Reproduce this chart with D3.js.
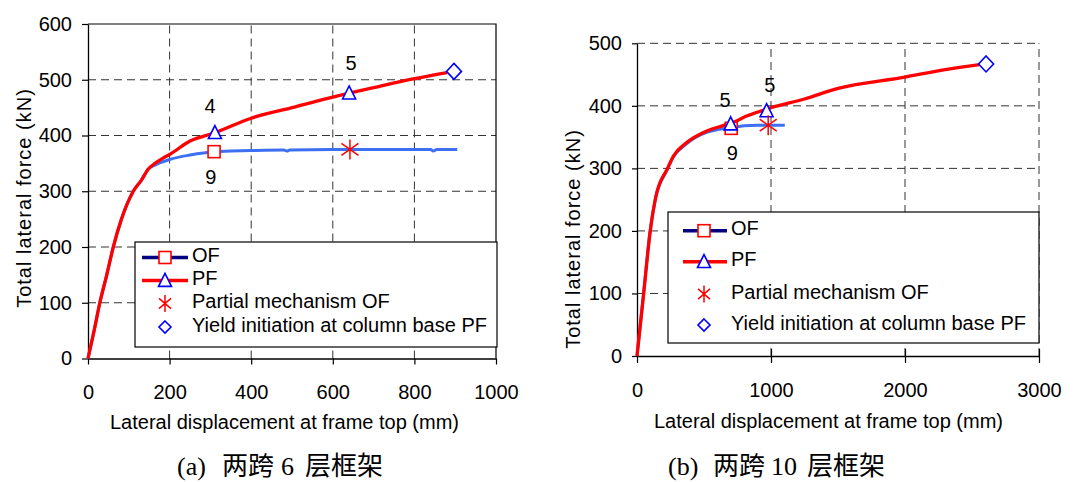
<!DOCTYPE html>
<html>
<head>
<meta charset="utf-8">
<script src="https://cdn.jsdelivr.net/npm/d3@7"></script>
<style>
  body { margin: 0; background: #fff; }
  svg { display: block; }
  text { font-family: "Liberation Sans", Arial, sans-serif; fill: #000; }
</style>
</head>
<body>
<svg id="fig" width="1075" height="482"></svg>
<script>
// ---------- Panel (a): two-bay, six-storey frame ----------
const xTicksA = [0, 200, 400, 600, 800, 1000];
const yTicksA = [0, 100, 200, 300, 400, 500, 600];

// PF (red) pushover curve: top displacement (mm) vs base shear (kN)
const dispA_PF  = [0, 15, 29, 46, 62, 82, 111, 131, 148, 164, 185, 200, 250, 311, 400, 500, 600, 640, 700, 800, 880];
const forceA_PF = [0, 50, 100, 150, 200, 250, 300, 320, 340, 350, 360, 366, 390, 405, 431, 450, 469, 476, 486, 502, 513];

// OF (blue) pushover curve
const dispA_OF  = [0, 15, 29, 46, 62, 82, 111, 131, 148, 164, 180, 200, 250, 309, 350, 400, 480, 487, 495, 600, 700, 800, 840, 846, 855, 905];
const forceA_OF = [0, 50, 100, 150, 200, 250, 300, 320, 340, 347, 352, 357, 365, 371, 372, 373, 374, 372, 374, 375, 375, 375, 375, 372, 375, 375];

// event markers
const sqA_disp = [309],       sqA_force = [371];
const triA_disp = [311, 640], triA_force = [405, 476];
const starA_disp = [642],     starA_force = [375];
const diaA_disp = [897],      diaA_force = [515];

// storey labels next to the markers
const labA_text  = ["4", "5", "9"];
const labA_disp  = [299, 645, 301];
const labA_force = [453, 530, 326];

// ---------- Panel (b): two-bay, ten-storey frame ----------
const xTicksB = [0, 1000, 2000, 3000];
const yTicksB = [0, 100, 200, 300, 400, 500];

const dispB_PF  = [0, 50, 99, 141, 228, 273, 364, 525, 637, 699, 823, 1000, 1250, 1500, 2000, 2300, 2556];
const forceB_PF = [0, 100, 200, 255, 300, 320, 340, 360, 368, 372, 384, 397, 411, 428, 446, 458, 466];

const dispB_OF  = [0, 48, 96, 138, 224, 270, 362, 525, 600, 703, 800, 900, 1000, 1103];
const forceB_OF = [0, 98, 197, 252, 297, 318, 338, 358, 362, 365, 368, 369, 369, 369];

const sqB_disp = [703],       sqB_force = [364];
const triB_disp = [699, 967], triB_force = [371, 392];
const starB_disp = [979],     starB_force = [369];
const diaB_disp = [2605],     diaB_force = [467];

const labB_text  = ["5", "5", "9"];
const labB_disp  = [657, 991, 711];
const labB_force = [409, 433, 325];

// legend entries (shared)
const legendLabels = ["OF", "PF", "Partial mechanism OF", "Yield initiation at column base PF"];

const RED = "#ff0000", BLUE_LINE = "#3d6ff2", NAVY = "#000080", MARK_BLUE = "#0000ff";

const svg = d3.select("#fig");

// marker glyphs -------------------------------------------------------
function square(g, cx, cy, s) {
  g.append("rect").attr("x", cx - s / 2).attr("y", cy - s / 2).attr("width", s).attr("height", s)
    .attr("fill", "#fff").attr("stroke", RED).attr("stroke-width", 1.6);
}
function triangle(g, cx, cy, s) {
  const h = s;
  g.append("path")
    .attr("d", `M${cx},${cy - h * 0.55}L${cx + s / 2},${cy + h * 0.45}L${cx - s / 2},${cy + h * 0.45}Z`)
    .attr("fill", "#fff").attr("stroke", MARK_BLUE).attr("stroke-width", 1.6);
}
function asterisk(g, cx, cy, w, h) {
  const p = `M${cx},${cy - h / 2}L${cx},${cy + h / 2}` +
            `M${cx - w / 2},${cy - h * 0.3}L${cx + w / 2},${cy + h * 0.3}` +
            `M${cx - w / 2},${cy + h * 0.3}L${cx + w / 2},${cy - h * 0.3}`;
  g.append("path").attr("d", p).attr("fill", "none").attr("stroke", RED).attr("stroke-width", 1.5);
}
function diamond(g, cx, cy, w, h) {
  g.append("path")
    .attr("d", `M${cx},${cy - h / 2}L${cx + w / 2},${cy}L${cx},${cy + h / 2}L${cx - w / 2},${cy}Z`)
    .attr("fill", "#fff").attr("stroke", MARK_BLUE).attr("stroke-width", 1.6);
}

// one panel --------------------------------------------------------------
function drawPanel(o) {
  const g = svg.append("g");
  const x = d3.scaleLinear().domain(o.xDomain).range(o.xRange);
  const y = d3.scaleLinear().domain(o.yDomain).range(o.yRange);
  const gridColor = "#333";
  const dash = "8,5";

  // grid lines (outer edge dashed only when dashedEdge)
  const xGrid = o.xTicks.filter(v => v > o.xDomain[0] && (o.dashedEdge || v < o.xDomain[1]));
  const yGrid = o.yTicks.filter(v => v > o.yDomain[0] && (o.dashedEdge || v < o.yDomain[1]));
  g.selectAll(null).data(xGrid).join("line")
    .attr("x1", d => x(d)).attr("x2", d => x(d))
    .attr("y1", y(o.yDomain[0])).attr("y2", y(o.yDomain[1]))
    .attr("stroke", gridColor).attr("stroke-width", 1).attr("stroke-dasharray", dash);
  g.selectAll(null).data(yGrid).join("line")
    .attr("y1", d => y(d)).attr("y2", d => y(d))
    .attr("x1", x(o.xDomain[0])).attr("x2", x(o.xDomain[1]))
    .attr("stroke", gridColor).attr("stroke-width", 1).attr("stroke-dasharray", dash);
  if (!o.dashedEdge) {
    g.append("path")
      .attr("d", `M${x(o.xDomain[0])},${y(o.yDomain[1])}H${x(o.xDomain[1])}V${y(o.yDomain[0])}`)
      .attr("fill", "none").attr("stroke", "#000").attr("stroke-width", 1.2);
  }

  // axes
  const ax = g.append("g").attr("transform", `translate(0,${y(o.yDomain[0])})`)
    .call(d3.axisBottom(x).tickValues(o.xTicks).tickFormat(d3.format("d"))
      .tickSizeInner(o.xTickOut).tickSizeOuter(0).tickPadding(o.xPad));
  if (o.xTickIn) ax.selectAll(".tick line").attr("y1", -o.xTickIn);
  const ay = g.append("g").attr("transform", `translate(${x(o.xDomain[0])},0)`)
    .call(d3.axisLeft(y).tickValues(o.yTicks).tickFormat(d3.format("d"))
      .tickSizeInner(o.yTickOut).tickSizeOuter(0).tickPadding(o.yPad));
  [ax, ay].forEach(a => {
    a.select(".domain").attr("stroke", "#000").attr("stroke-width", 1.3);
    a.selectAll(".tick line").attr("stroke", "#000").attr("stroke-width", 1.2);
    a.selectAll("text").attr("font-size", 20).attr("font-family", "Liberation Sans, Arial, sans-serif").attr("fill", "#000");
  });

  // axis titles
  g.append("text").attr("x", o.xTitle[0]).attr("y", o.xTitle[1]).attr("text-anchor", "middle")
    .attr("font-size", 20).text("Lateral displacement at frame top (mm)");
  g.append("text").attr("transform", `translate(${o.yTitle[0]},${o.yTitle[1]}) rotate(-90)`)
    .attr("text-anchor", "middle").attr("dy", "0.35em").attr("font-size", 20)
    .attr("letter-spacing", 1).text("Total lateral force (kN)");

  // curves
  const line = d3.line().x(d => x(d[0])).y(d => y(d[1])).curve(d3.curveMonotoneX);
  g.append("path").datum(d3.zip(o.ofDisp, o.ofForce)).attr("d", line)
    .attr("fill", "none").attr("stroke", BLUE_LINE).attr("stroke-width", 3).attr("stroke-linejoin", "round");
  g.append("path").datum(d3.zip(o.pfDisp, o.pfForce)).attr("d", line)
    .attr("fill", "none").attr("stroke", RED).attr("stroke-width", 3.3).attr("stroke-linejoin", "round");

  // markers
  o.sqDisp.forEach((d, i) => square(g, x(d), y(o.sqForce[i]), 12));
  o.triDisp.forEach((d, i) => triangle(g, x(d), y(o.triForce[i]), 13));
  o.starDisp.forEach((d, i) => asterisk(g, x(d), y(o.starForce[i]), 17, 20));
  o.diaDisp.forEach((d, i) => diamond(g, x(d), y(o.diaForce[i]), 15, 16));

  // storey labels
  o.labText.forEach((t, i) => {
    g.append("text").attr("x", x(o.labDisp[i])).attr("y", y(o.labForce[i]))
      .attr("text-anchor", "middle").attr("dy", "0.35em").attr("font-size", 20).text(t);
  });

  // legend
  const L = o.legend;
  const lg = g.append("g");
  lg.append("rect").attr("x", L.box[0]).attr("y", L.box[1])
    .attr("width", L.box[2] - L.box[0]).attr("height", L.box[3] - L.box[1])
    .attr("fill", "#fff").attr("stroke", "#000").attr("stroke-width", 1.2);
  const r = L.rows;
  lg.append("line").attr("x1", L.lx0).attr("x2", L.lx1).attr("y1", r[0]).attr("y2", r[0])
    .attr("stroke", NAVY).attr("stroke-width", 3.5);
  square(lg, L.mx, r[0], 12);
  lg.append("line").attr("x1", L.lx0).attr("x2", L.lx1).attr("y1", r[1]).attr("y2", r[1])
    .attr("stroke", RED).attr("stroke-width", 3.5);
  triangle(lg, L.mx, r[1], 13);
  asterisk(lg, L.mx, r[2], 12, 17);
  diamond(lg, L.mx, r[3], 12, 12);
  legendLabels.forEach((t, i) => {
    lg.append("text").attr("x", L.tx).attr("y", r[i] - 2.5).attr("dy", "0.35em")
      .attr("font-size", 20).text(t);
  });
}

drawPanel({
  xDomain: [0, 1000], xRange: [88, 496],
  yDomain: [0, 600], yRange: [358.5, 24],
  xTicks: xTicksA, yTicks: yTicksA,
  dashedEdge: false,
  xTickOut: 6, xTickIn: 0, xPad: 20,
  yTickOut: 6, yPad: 10,
  xTitle: [284.5, 429], yTitle: [24, 198],
  pfDisp: dispA_PF, pfForce: forceA_PF, ofDisp: dispA_OF, ofForce: forceA_OF,
  sqDisp: sqA_disp, sqForce: sqA_force, triDisp: triA_disp, triForce: triA_force,
  starDisp: starA_disp, starForce: starA_force, diaDisp: diaA_disp, diaForce: diaA_force,
  labText: labA_text, labDisp: labA_disp, labForce: labA_force,
  legend: { box: [135, 242, 497, 347], rows: [257.5, 280.5, 303.5, 327], lx0: 142, lx1: 188, mx: 165, tx: 192 }
});

drawPanel({
  xDomain: [0, 3000], xRange: [637, 1039],
  yDomain: [0, 500], yRange: [356, 43.3],
  xTicks: xTicksB, yTicks: yTicksB,
  dashedEdge: true,
  xTickOut: 7, xTickIn: 7, xPad: 20,
  yTickOut: 5, yPad: 10,
  xTitle: [828.5, 428], yTitle: [573, 239],
  pfDisp: dispB_PF, pfForce: forceB_PF, ofDisp: dispB_OF, ofForce: forceB_OF,
  sqDisp: sqB_disp, sqForce: sqB_force, triDisp: triB_disp, triForce: triB_force,
  starDisp: starB_disp, starForce: starB_force, diaDisp: diaB_disp, diaForce: diaB_force,
  labText: labB_text, labDisp: labB_disp, labForce: labB_force,
  legend: { box: [668, 212, 1039, 343], rows: [230.7, 261.7, 294, 325], lx0: 683, lx1: 727, mx: 704, tx: 731 }
});

// ---------- captions ----------
function caption(parts) {
  const t = svg.append("text").attr("y", 474.5).attr("font-size", 26).style("white-space", "pre");
  parts.forEach(p => {
    t.append("tspan").attr("x", p[0])
      .attr("font-family", p[2] ? "'Noto Sans CJK SC', sans-serif" : "'Liberation Serif', 'Times New Roman', serif")
      .text(p[1]);
  });
}
caption([[177, "(a)", false], [222, "两跨", true], [281, "6", false], [305, "层框架", true]]);
caption([[668, "(b)", false], [713, "两跨", true], [771, "10", false], [807, "层框架", true]]);
</script>
</body>
</html>
